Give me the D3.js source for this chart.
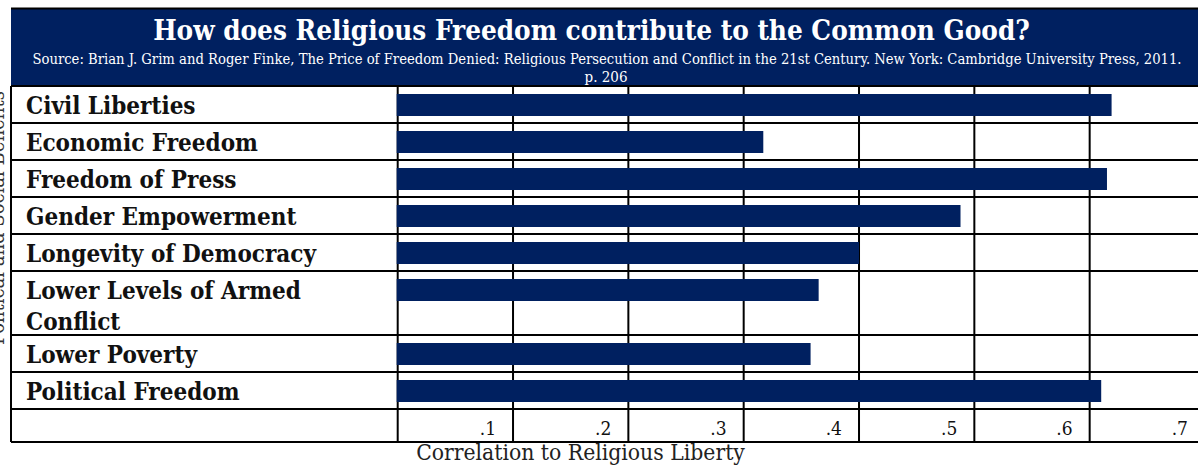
<!DOCTYPE html>
<html>
<head>
<meta charset="utf-8">
<script src="https://cdn.jsdelivr.net/npm/d3@7"></script>
<style>
  html, body { margin: 0; padding: 0; background: #fff; overflow: hidden; }
  svg { display: block; }
</style>
</head>
<body>
<svg id="chart" width="1198" height="472"></svg>
<script>
// ---- data ----
const title = "How does Religious Freedom contribute to the Common Good?";
const sourceLine1 = "Source: Brian J. Grim and Roger Finke, The Price of Freedom Denied: Religious Persecution and Conflict in the 21st Century. New York: Cambridge University Press, 2011.";
const sourceLine2 = "p. 206";
const categories = [
  ["Civil Liberties"],
  ["Economic Freedom"],
  ["Freedom of Press"],
  ["Gender Empowerment"],
  ["Longevity of Democracy"],
  ["Lower Levels of Armed", "Conflict"],
  ["Lower Poverty"],
  ["Political Freedom"]
];
const values = [0.619, 0.317, 0.615, 0.488, 0.400, 0.365, 0.358, 0.610];
const tickValues = [0.1, 0.2, 0.3, 0.4, 0.5, 0.6, 0.7];
const tickLabels = [".1", ".2", ".3", ".4", ".5", ".6", ".7"];
const xAxisTitle = "Correlation to Religious Liberty";
const yAxisTitle = "Political and Social Benefits";

// ---- layout ----
const W = 1198, H = 472;
const navy = "#002060";
const serif = "'DejaVu Serif Condensed', 'DejaVu Serif', serif";
const left = 11, tableTop = 86, plotLeft = 397.7;
const baseRow = 37, extraLine = 27, axisRow = 33;

const svg = d3.select("#chart");

// shrink/grow font so the text's natural width matches a target width
function fitText(sel, target, maxSize) {
  let fs = maxSize;
  sel.attr("font-size", fs);
  const w = sel.node().getComputedTextLength();
  if (w > 0) fs = Math.min(maxSize * 1.3, fs * target / w);
  sel.attr("font-size", fs);
  return sel;
}

// row geometry derived from label line count
const rowH = categories.map(c => baseRow + (c.length - 1) * extraLine);
const rowTop = rowH.map((h, i) => tableTop + d3.sum(rowH.slice(0, i)));
const tableBottom = tableTop + d3.sum(rowH);
const axisBottom = tableBottom + axisRow;

const x = d3.scaleLinear().domain([0, 0.7]).range([plotLeft, plotLeft + 807.3]);

// banner
svg.append("rect").attr("x", left).attr("y", 8).attr("width", W - left).attr("height", tableTop - 8).attr("fill", navy);
svg.append("line").attr("x1", left).attr("x2", W).attr("y1", 8.5).attr("y2", 8.5).attr("stroke", "#000").attr("stroke-width", 2);
fitText(svg.append("text").attr("x", 591.5).attr("y", 40).attr("text-anchor", "middle")
  .attr("fill", "#fff").attr("font-family", serif).attr("font-weight", "bold").text(title), 877, 30);
fitText(svg.append("text").attr("x", 607).attr("y", 64).attr("text-anchor", "middle")
  .attr("fill", "#fff").attr("font-family", serif).text(sourceLine1), 1150, 15);
svg.append("text").attr("x", 606).attr("y", 82).attr("text-anchor", "middle")
  .attr("fill", "#fff").attr("font-family", serif).attr("font-size", 15).text(sourceLine2);

// grid: horizontal row lines
const hLines = rowTop.concat([tableBottom, axisBottom]);
svg.append("g").selectAll("line").data(hLines).join("line")
  .attr("x1", left).attr("x2", W).attr("y1", d => d).attr("y2", d => d)
  .attr("stroke", "#000").attr("stroke-width", 2);
// left border
svg.append("line").attr("x1", left).attr("x2", left).attr("y1", tableTop).attr("y2", axisBottom)
  .attr("stroke", "#000").attr("stroke-width", 2);
// vertical grid lines
svg.append("g").selectAll("line").data([0].concat(tickValues)).join("line")
  .attr("x1", d => x(d)).attr("x2", d => x(d)).attr("y1", tableTop).attr("y2", axisBottom)
  .attr("stroke", "#000").attr("stroke-width", 2);

// bars
svg.append("g").selectAll("rect").data(values).join("rect")
  .attr("x", x(0) - 1).attr("y", (d, i) => rowTop[i] + 8)
  .attr("width", d => x(d) - x(0) + 1).attr("height", 22).attr("fill", navy);

// category labels
const lab = svg.append("g").attr("font-family", serif).attr("font-weight", "bold").attr("font-size", 24).attr("fill", "#111");
categories.forEach((lines, i) => {
  lines.forEach((t, j) => {
    lab.append("text").attr("x", 26).attr("y", rowTop[i] + 28 + j * 31).text(t);
  });
});

// tick labels
svg.append("g").selectAll("text").data(tickValues).join("text")
  .attr("x", d => x(d) - 17).attr("y", tableBottom + 26).attr("text-anchor", "end")
  .attr("font-family", serif).attr("font-size", 19).attr("fill", "#111")
  .text((d, i) => tickLabels[i]);

// x axis title
fitText(svg.append("text").attr("x", 580.5).attr("y", 460).attr("text-anchor", "middle")
  .attr("font-family", serif).attr("fill", "#222").text(xAxisTitle), 329, 20);

// y axis title (mostly cut off at left edge, as in the reference)
svg.append("text").attr("transform", "translate(4,218) rotate(-90)").attr("text-anchor", "middle")
  .attr("font-family", serif).attr("font-size", 20).attr("fill", "#333").text(yAxisTitle);
</script>
</body>
</html>
